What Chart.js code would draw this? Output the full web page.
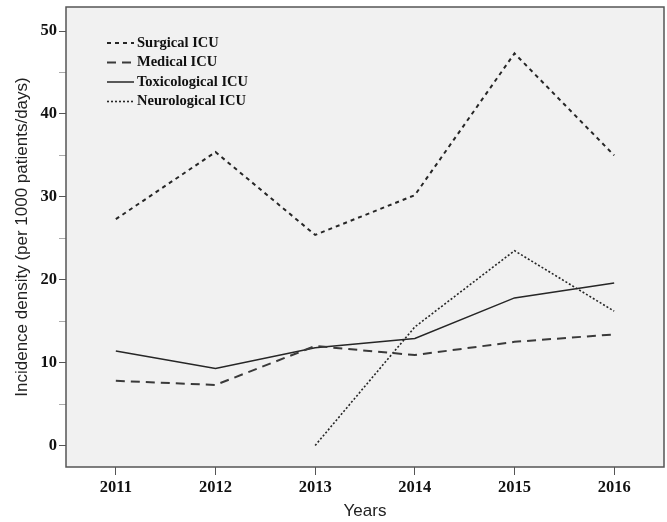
<!DOCTYPE html>
<html>
<head>
<meta charset="utf-8">
<script src="https://cdn.jsdelivr.net/npm/chart.js@4.4.0/dist/chart.umd.min.js"></script>
<style>
  html, body { margin: 0; padding: 0; background: #fff; }
  #wrap { width: 667px; height: 522px; }
</style>
</head>
<body>
<div id="wrap"><canvas id="chart" width="667" height="522"></canvas></div>
<script>
const years = ['2011', '2012', '2013', '2014', '2015', '2016'];
const surgical = [27.3, 35.4, 25.4, 30.2, 47.3, 35.0];
const medical = [7.8, 7.3, 12.0, 10.9, 12.5, 13.4];
const toxicological = [11.4, 9.3, 11.8, 12.9, 17.8, 19.6];
const neurological = [null, null, 0, 14.3, 23.5, 16.2];
const yTicks = [0, 5, 10, 15, 20, 25, 30, 35, 40, 45, 50];

const ink = '#262626';

// plot panel background + frame
const panel = {
    id: 'panel',
    beforeDraw(chart) {
        const { ctx, chartArea: a } = chart;
        ctx.save();
        ctx.fillStyle = '#f1f1f1';
        ctx.fillRect(a.left, a.top, a.right - a.left, a.bottom - a.top);
        ctx.restore();
    },
    afterDraw(chart) {
        const { ctx, chartArea: a } = chart;
        ctx.save();
        ctx.strokeStyle = '#555';
        ctx.lineWidth = 1.5;
        ctx.strokeRect(a.left, a.top, a.right - a.left, a.bottom - a.top);
        ctx.restore();
    }
};

// legend drawn inside the plot, top-left
const innerLegend = {
    id: 'innerLegend',
    afterDatasetsDraw(chart) {
        const { ctx, chartArea: a } = chart;
        ctx.save();
        ctx.font = 'bold 14.5px "Liberation Serif", "Times New Roman", serif';
        ctx.textBaseline = 'middle';
        chart.data.datasets.forEach((ds, i) => {
            const y = a.top + 36 + i * 19.5;
            const x0 = a.left + 41;
            ctx.strokeStyle = ds.borderColor;
            ctx.lineWidth = ds.borderWidth;
            ctx.setLineDash(ds.borderDash || []);
            ctx.beginPath();
            ctx.moveTo(x0, y);
            ctx.lineTo(x0 + 27, y);
            ctx.stroke();
            ctx.setLineDash([]);
            ctx.fillStyle = '#111';
            ctx.fillText(ds.label, x0 + 30, y);
        });
        ctx.restore();
    }
};

new Chart(document.getElementById('chart'), {
    type: 'line',
    data: {
        labels: years,
        datasets: [
            { label: 'Surgical ICU', data: surgical, borderColor: ink, borderWidth: 2, borderDash: [4, 4] },
            { label: 'Medical ICU', data: medical, borderColor: '#3a3a3a', borderWidth: 2, borderDash: [9, 6] },
            { label: 'Toxicological ICU', data: toxicological, borderColor: ink, borderWidth: 1.5, borderDash: [] },
            { label: 'Neurological ICU', data: neurological, borderColor: ink, borderWidth: 1.6, borderDash: [2, 2] }
        ]
    },
    options: {
        responsive: false,
        animation: false,
        layout: { padding: { top: 7, right: 3, left: 0, bottom: 0 } },
        elements: {
            point: { radius: 0, hoverRadius: 0 },
            line: { tension: 0, fill: false }
        },
        plugins: {
            legend: { display: false },
            tooltip: { enabled: false }
        },
        scales: {
            x: {
                offset: true,
                grid: { drawOnChartArea: false, tickLength: 8, color: '#555', offset: false },
                border: { display: false },
                ticks: {
                    color: '#111',
                    padding: 3,
                    font: { family: '"Liberation Serif", "Times New Roman", serif', size: 16.5, weight: 'bold' }
                },
                title: {
                    display: true,
                    text: 'Years',
                    color: '#222',
                    padding: { top: 0, bottom: 0 },
                    font: { family: '"Liberation Sans", Arial, sans-serif', size: 17 }
                },
                afterFit(scale) { scale.height = 55; }
            },
            y: {
                min: -2.6,
                max: 52.9,
                afterBuildTicks(scale) { scale.ticks = yTicks.map(v => ({ value: v })); },
                grid: {
                    drawOnChartArea: false,
                    tickLength: 7,
                    color: '#555',
                    tickColor: c => (c.tick && c.tick.value % 10 === 0) ? '#555' : '#aaa'
                },
                border: { display: false },
                ticks: {
                    color: '#111',
                    padding: 2,
                    autoSkip: false,
                    callback: v => (v % 10 === 0 ? v : ''),
                    font: { family: '"Liberation Serif", "Times New Roman", serif', size: 16.5, weight: 'bold' }
                },
                title: {
                    display: true,
                    text: 'Incidence density (per 1000 patients/days)',
                    color: '#222',
                    padding: { top: 12, bottom: 4 },
                    font: { family: '"Liberation Sans", Arial, sans-serif', size: 17 }
                },
                afterFit(scale) {
                    scale.width = 66;
                    scale.paddingTop = 0;
                }
            }
        }
    },
    plugins: [panel, innerLegend]
});
</script>
</body>
</html>
